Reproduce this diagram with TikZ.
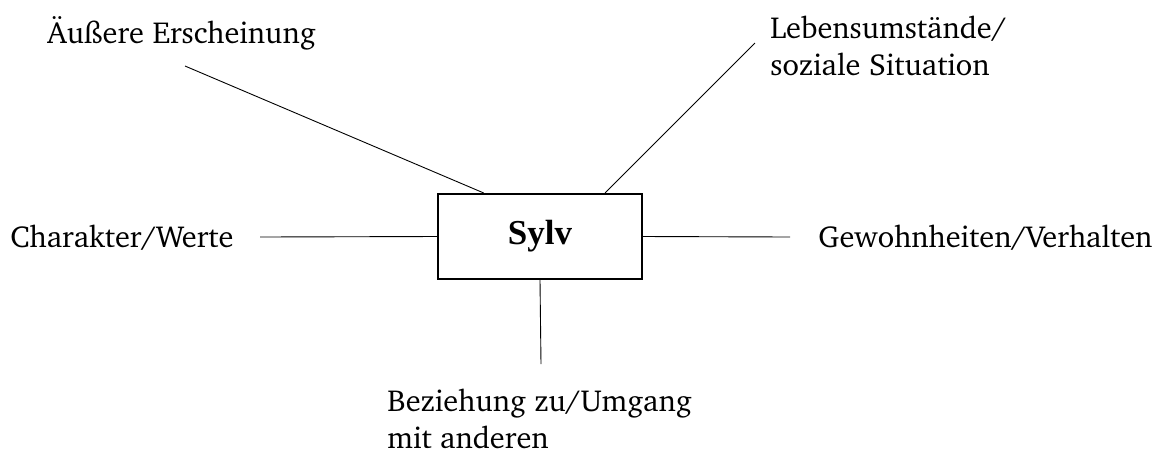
\documentclass[tikz,border=0pt]{standalone}
\usepackage[T1]{fontenc}
\usepackage{fontspec}
\newfontfamily\sylvfont{Liberation Serif}
\newcommand{\chartext}{\fontencoding{T1}\fontfamily{bch}\fontseries{m}\fontshape{n}\selectfont}
\usetikzlibrary{calc}

\begin{document}
\begin{tikzpicture}[x=0.5pt,y=-0.5pt,
  lbl/.style={inner sep=0pt,font=\chartext\fontsize{15.2}{18.5}\selectfont,align=left},
  conn/.style={line width=0.45pt},
  kasten/.style={draw,line width=1.2pt,minimum width=101.8pt,minimum height=42.3pt,
    inner sep=0pt,font=\sylvfont\bfseries\fontsize{17.5}{20}\selectfont}]
\useasboundingbox (0,0) rectangle (1158,452);
% Mittelknoten
\node[kasten] (sylv) at (540,236.5) {Sylv};

% Beschriftungen
\node[lbl,anchor=base west] (aussen) at (47,43) {\"Au\ss{}ere Erscheinung};
\node[lbl,anchor=north west] (leben) at (770,16) {Lebensumst\"ande/\\soziale Situation};
\node[lbl,anchor=base west] (charakter) at (10,247) {Charakter/Werte};
\node[lbl,anchor=base west] (gewohn) at (818,247) {Gewohnheiten/Verhalten};
\node[lbl,anchor=north west] (bezieh) at (387,389) {Beziehung zu/Umgang\\mit anderen};

% Linienenden
\coordinate (aussen-end) at (185,66);
\coordinate (leben-end) at (755,43);
\coordinate (charakter-end) at (260,237);
\coordinate (gewohn-end) at (790,237);
\coordinate (bezieh-end) at (541,364);

% Verbindungen
\draw[conn] (aussen-end) -- ($(sylv.north west)!0.227!(sylv.north east)$);
\draw[conn] (leben-end) -- ($(sylv.north west)!0.816!(sylv.north east)$);
\draw[conn] (charakter-end) -- (sylv.west);
\draw[conn] (sylv.east) -- (gewohn-end);
\draw[conn] (sylv.south) -- (bezieh-end);

\end{tikzpicture}
\end{document}
